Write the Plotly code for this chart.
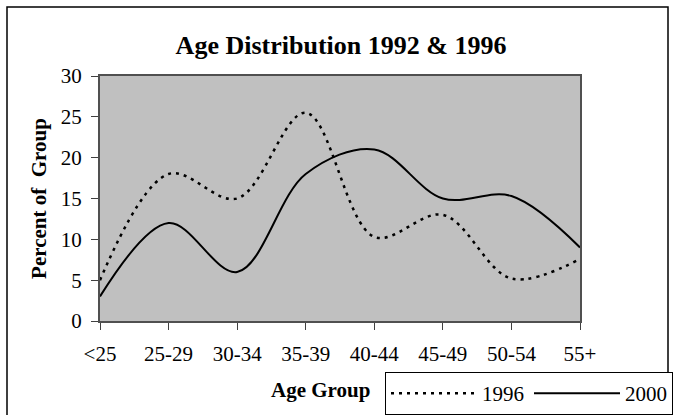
import plotly.graph_objects as go

age_groups = ["<25", "25-29", "30-34", "35-39", "40-44", "45-49", "50-54", "55+"]
pct_1996 = [5, 18, 15, 25.5, 10.3, 13, 5.2, 7.6]
pct_2000 = [3, 12, 6, 18, 21, 15, 15.3, 9]
y_ticks = [0, 5, 10, 15, 20, 25, 30]

FONT = "Liberation Serif, Times New Roman, serif"

fig = go.Figure()
fig.add_trace(go.Scatter(x=age_groups, y=pct_1996, name="1996", mode="lines",
                         line=dict(color="black", width=2.5, dash="3px,5px",
                                   shape="spline", smoothing=1)))
fig.add_trace(go.Scatter(x=age_groups, y=pct_2000, name="2000", mode="lines",
                         line=dict(color="black", width=2,
                                   shape="spline", smoothing=1)))

# plot area: x 100..580, y 76..321 px
W, H = 676, 415
L, R, T, B = 100, 580, 76, 321

def px_x(v):
    return (v - L) / (R - L)

def px_y(v):
    return (B - v) / (B - T)

fig.update_layout(
    width=W, height=H,
    margin=dict(l=L, r=W - R, t=T, b=H - B, autoexpand=False),
    paper_bgcolor="white",
    plot_bgcolor="#C0C0C0",
    font=dict(family=FONT, size=21, color="black"),
    title=dict(text="<b>Age Distribution 1992 & 1996</b>", x=341 / W, xanchor="center",
               y=1 - 45 / H, yanchor="middle", font=dict(size=26)),
    showlegend=True,
    legend=dict(orientation="h", xref="container", yref="container",
                x=385 / W, y=1 - 372 / H, xanchor="left", yanchor="top",
                bgcolor="white", bordercolor="black", borderwidth=1,
                itemwidth=86, font=dict(size=21), tracegroupgap=0,
                valign="middle"),
    xaxis=dict(range=[0, 7], showgrid=False, zeroline=False,
               showline=True, linecolor="#505050", linewidth=2, mirror=True,
               ticks="outside", ticklen=7, tickcolor="#404040",
               tickmode="array", tickvals=age_groups, ticktext=age_groups,
               ticklabelstandoff=6),
    yaxis=dict(range=[0, 30], showgrid=False, zeroline=False,
               showline=True, linecolor="#505050", linewidth=2, mirror=True,
               ticks="outside", ticklen=7, tickcolor="#404040",
               tickvals=y_ticks, ticklabelstandoff=5,
               title=dict(text="<b>Percent of \u00a0Group</b>", font=dict(size=21),
                          standoff=8)),
)

fig.add_annotation(text="<b>Age Group</b>", xref="paper", yref="paper",
                   x=px_x(320), y=px_y(390), showarrow=False,
                   xanchor="center", yanchor="middle", font=dict(size=21))

# outer chart frame
fig.add_shape(type="rect", xref="paper", yref="paper",
              x0=px_x(7), x1=px_x(668), y0=px_y(418), y1=px_y(7),
              line=dict(color="black", width=1.5), layer="below")

# page has default body margin; drop it so the chart sits at the window origin
fig.write_html("out.html", config={"displayModeBar": False},
               post_script="document.body.style.margin='0';")
